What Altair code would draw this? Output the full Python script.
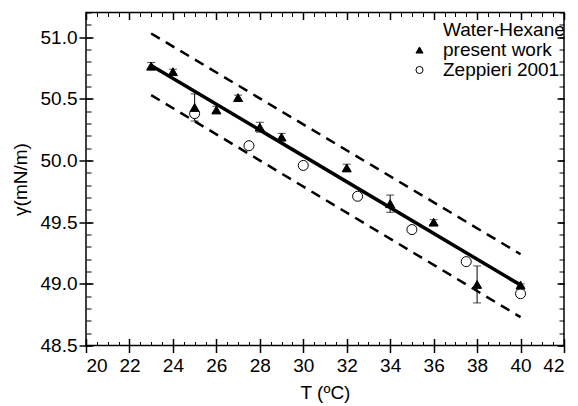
import altair as alt
import pandas as pd

# ---- data ----
T_pw = [23, 24, 25, 26, 27, 28, 29, 32, 34, 36, 38, 40]
g_pw = [50.765, 50.72, 50.43, 50.41, 50.51, 50.27, 50.19, 49.94, 49.65, 49.50, 48.995, 48.99]
e_pw = [0.03, 0.02, 0.11, 0.03, 0.02, 0.04, 0.03, 0.03, 0.07, 0.02, 0.15, 0.01]

T_z = [25, 27.5, 30, 32.5, 35, 37.5, 40]
g_z = [50.38, 50.12, 49.96, 49.71, 49.44, 49.18, 48.92]

fit_T = [23, 40]
fit_g = [50.77, 48.99]
upper_g = [51.03, 49.24]
lower_g = [50.53, 48.73]

series_names = ["Water-Hexane", "present work", "Zeppieri 2001"]
series_sizes = [64, 100, 64]

x_major = [20, 22, 24, 26, 28, 30, 32, 34, 36, 38, 40, 42]
x_minor = [20 + 0.5 * i for i in range(45)]
y_major = [48.5, 49.0, 49.5, 50.0, 50.5, 51.0]
y_minor = [round(48.5 + 0.1 * i, 1) for i in range(28)]

FONT = "Liberation Sans"
FS = 19

df_fit = pd.DataFrame({"T": fit_T, "fit": fit_g, "upper": upper_g, "lower": lower_g})
df_pw = pd.DataFrame({"T": T_pw, "g": g_pw,
                      "lo": [g - e for g, e in zip(g_pw, e_pw)],
                      "hi": [g + e for g, e in zip(g_pw, e_pw)]})
df_pts = pd.concat([
    pd.DataFrame({"T": T_z, "g": g_z, "series": "Zeppieri 2001"}),
    pd.DataFrame({"T": T_pw, "g": g_pw, "series": "present work"}),
], ignore_index=True)

xs = alt.Scale(domain=[20, 42], nice=False, zero=False)
ys = alt.Scale(domain=[48.5, 51.2], nice=False, zero=False)


def X(field, axis=None):
    return alt.X(field, type="quantitative", scale=xs, axis=axis)


def Y(field, axis=None):
    return alt.Y(field, type="quantitative", scale=ys, axis=axis)


# ---- data layers ----
solid = alt.Chart(df_fit).mark_line(color="black", strokeWidth=3.5).encode(x=X("T"), y=Y("fit"))
up = alt.Chart(df_fit).mark_line(color="black", strokeWidth=2.5, strokeDash=[10, 7]).encode(x=X("T"), y=Y("upper"))
lo = alt.Chart(df_fit).mark_line(color="black", strokeWidth=2.5, strokeDash=[10, 7]).encode(x=X("T"), y=Y("lower"))

err = alt.Chart(df_pw).mark_rule(color="black", strokeWidth=1).encode(x=X("T"), y=Y("lo"), y2="hi")
cap_lo = alt.Chart(df_pw).mark_tick(color="black", orient="horizontal", size=8, thickness=1).encode(x=X("T"), y=Y("lo"))
cap_hi = alt.Chart(df_pw).mark_tick(color="black", orient="horizontal", size=8, thickness=1).encode(x=X("T"), y=Y("hi"))

legend = alt.Legend(title=None, orient="none", legendX=324, legendY=8,
                    labelFont=FONT, labelFontSize=FS, labelColor="black",
                    symbolSize=50, symbolStrokeWidth=1, labelOffset=14,
                    rowPadding=0, padding=0)

points = alt.Chart(df_pts).mark_point(strokeWidth=1, opacity=1).encode(
    x=X("T"), y=Y("g"),
    shape=alt.Shape("series:N", scale=alt.Scale(domain=series_names, range=["circle", "triangle-up", "circle"]), legend=legend),
    fill=alt.Fill("series:N", scale=alt.Scale(domain=series_names, range=["transparent", "black", "white"]), legend=legend),
    stroke=alt.Stroke("series:N", scale=alt.Scale(domain=series_names, range=["transparent", "black", "black"]), legend=legend),
    size=alt.Size("series:N", scale=alt.Scale(domain=series_names, range=series_sizes), legend=None),
)

# ---- axis layers (invisible marks carrying axes) ----
common = dict(grid=False, domain=False, tickColor="black")

main_x = alt.Axis(orient="bottom", values=x_major, title="T (ºC)", tickSize=7, tickWidth=1.5,
                  labelPadding=4, labelFont=FONT, labelFontSize=FS, labelColor="black",
                  titleFont=FONT, titleFontSize=FS, titleFontWeight="normal", titleColor="black",
                  titlePadding=8, format="d", **common)
main_y = alt.Axis(orient="left", values=y_major, title="γ(mN/m)", tickSize=7, tickWidth=1.5,
                  labelPadding=2, labelFont=FONT, labelFontSize=FS, labelColor="black",
                  titleFont=FONT, titleFontSize=FS, titleFontWeight="normal", titleColor="black",
                  titlePadding=10, format=".1f", **common)


def tick_axis(orient, values, size, width):
    return alt.Axis(orient=orient, values=values, offset=-size, tickSize=size, tickWidth=width,
                    labels=False, title=None, **common)


axis_pairs = [
    (main_x, main_y),
    (tick_axis("bottom", x_major, 7, 1.5), tick_axis("left", y_major, 7, 1.5)),
    (tick_axis("bottom", x_minor, 4, 1), tick_axis("left", y_minor, 5, 1)),
    (tick_axis("top", x_major, 7, 1.5), tick_axis("right", y_major, 7, 1.5)),
    (tick_axis("top", x_minor, 4, 1), tick_axis("right", y_minor, 5, 1)),
]
axis_layers = [
    alt.Chart(df_fit).mark_line(opacity=0).encode(x=X("T", ax), y=Y("fit", ay))
    for ax, ay in axis_pairs
]

chart = alt.layer(*axis_layers, up, lo, solid, err, cap_lo, cap_hi, points).resolve_axis(
    x="independent", y="independent"
).resolve_scale(size="independent").properties(
    width=478, height=333,
    padding={"left": 3, "top": 3.5, "right": 5, "bottom": 0},
    background="white",
).configure_view(stroke="black", strokeWidth=1.5)

chart.save("out.html", embed_options={"renderer": "svg", "actions": False})
